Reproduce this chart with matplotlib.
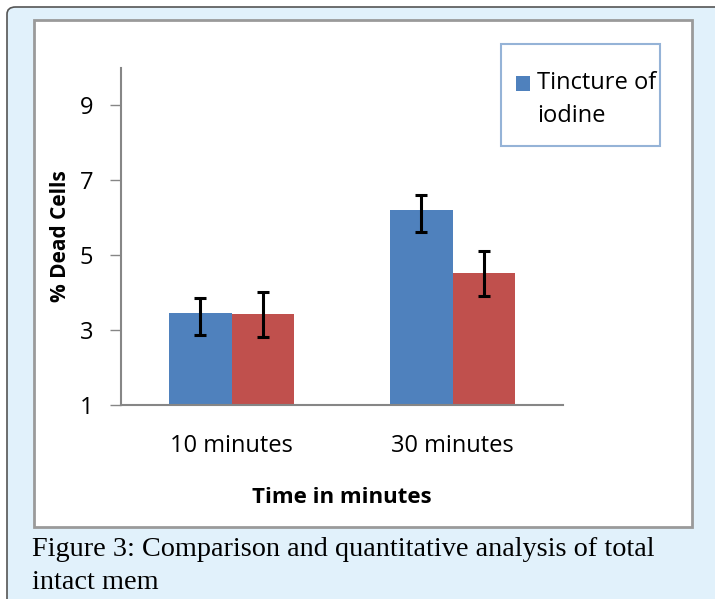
import matplotlib
matplotlib.use('Agg')
import numpy as np
from matplotlib import pyplot as plt
from matplotlib.patches import FancyBboxPatch, Rectangle
from matplotlib.legend_handler import HandlerPatch
from matplotlib.container import BarContainer

# data
categories = ['10 minutes', '30 minutes']
tincture = [3.47, 6.22]
tincture_err_low = [0.6, 0.6]
tincture_err_high = [0.4, 0.4]
other = [3.42, 4.52]
other_err = [0.6, 0.6]
yticks = [1, 3, 5, 7, 9]

W, H = 715, 599
fig = plt.figure(figsize=(W / 100, H / 100), dpi=100)
fig.patch.set_facecolor('white')

# outer light-blue panel
outer = FancyBboxPatch((7 / W, -0.05), 1.2, 1 - 7 / H + 0.05,
                       boxstyle='round,pad=0,rounding_size=0.012',
                       transform=fig.transFigure, facecolor='#e1f1fb',
                       edgecolor='#555555', lw=1.2, zorder=-10)
fig.patches.append(outer)

# white chart box with grey border
box = Rectangle((34 / W, 1 - 527 / H), (692 - 34) / W, (527 - 20) / H,
                transform=fig.transFigure, facecolor='white',
                edgecolor='#9a9a9a', lw=2, zorder=-9)
fig.patches.append(box)

# legend frame
legbox = Rectangle((501 / W, 1 - 146 / H), (660 - 501) / W, (146 - 44) / H,
                   transform=fig.transFigure, facecolor='white',
                   edgecolor='#95b3d7', lw=1.5, zorder=-8)
fig.patches.append(legbox)

ax = fig.add_axes([121 / W, 1 - 405 / H, (563 - 121) / W, (405 - 68) / H])
ax.set_facecolor('none')
ax.set_zorder(5)

x = np.arange(len(categories))
w = 0.285
ekw = dict(ecolor='black', elinewidth=2.2, capsize=4.5, capthick=2.2)
ax.bar(x - w / 2, tincture, w, color='#4f81bd',
       yerr=[tincture_err_low, tincture_err_high], error_kw=ekw,
       label='Tincture of\niodine')
ax.bar(x + w / 2, other, w, color='#c0504d', yerr=other_err, error_kw=ekw)

ax.set_xlim(-0.5, 1.5)
ax.set_ylim(1, 10)
ax.set_yticks(yticks)
ax.set_xticks(x)
ax.set_xticklabels(categories)
ax.tick_params(axis='x', length=0, pad=21, labelsize=17)
ax.tick_params(axis='y', length=8, width=1, color='#868686', pad=12, labelsize=17)
for s in ['top', 'right']:
    ax.spines[s].set_visible(False)
for s in ['left', 'bottom']:
    ax.spines[s].set_color('#868686')
    ax.spines[s].set_linewidth(1.5)
for lab in ax.get_xticklabels() + ax.get_yticklabels():
    lab.set_family('Open Sans')

ax.set_ylabel('% Dead Cells', fontsize=15, fontweight='bold', family='Open Sans', labelpad=6)
ax.set_xlabel('Time in minutes', fontsize=16, fontweight='bold', family='Open Sans', labelpad=21)


def top_square(legend, orig_handle, xdescent, ydescent, width, height, fontsize):
    # square aligned with the first line of the label
    return Rectangle((-xdescent, -ydescent + 12), width, height)


def first_child(legend_handle, orig_handle):
    legend_handle.update_from(orig_handle[0])


leg = fig.legend(loc='upper left', bbox_to_anchor=(516 / W, 1 - 71 / H),
                 prop={'family': 'Open Sans', 'size': 17},
                 frameon=False, handlelength=0.6, handleheight=0.6,
                 handletextpad=0.3, borderpad=0, borderaxespad=0,
                 handler_map={BarContainer: HandlerPatch(patch_func=top_square,
                                                         update_func=first_child)})
for t in leg.get_texts():
    t.set_linespacing(1.5)

cap_lines = ['Figure 3: Comparison and quantitative analysis of total', 'intact mem']
for i, line in enumerate(cap_lines):
    fig.text(32 / W, 1 - (556 + 33 * i) / H, line,
             fontsize=20.3, family='Liberation Serif', va='baseline', ha='left')

plt.savefig('out.png', dpi=100)
